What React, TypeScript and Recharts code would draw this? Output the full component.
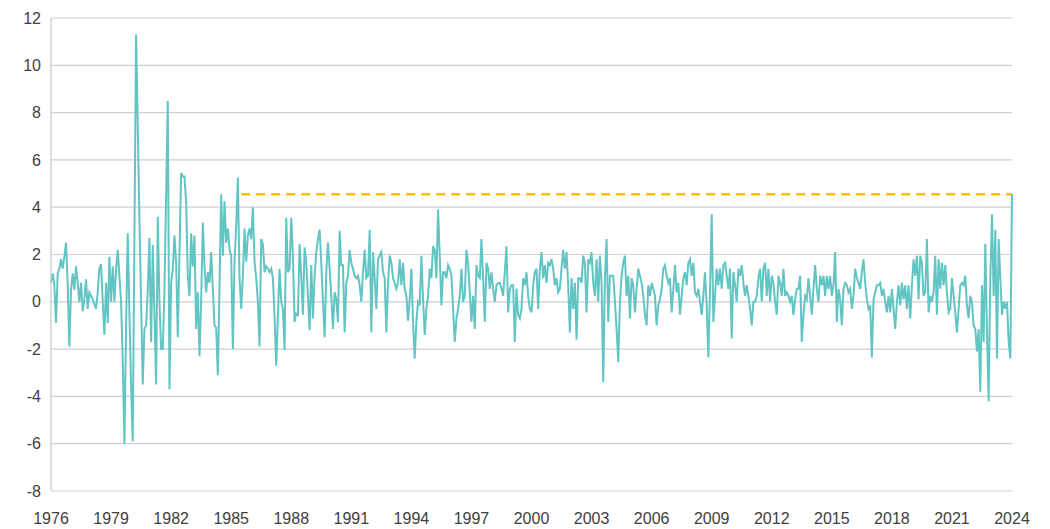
import React from 'react';
import {
  LineChart,
  Line,
  XAxis,
  YAxis,
  CartesianGrid,
  ReferenceLine,
} from 'recharts';

// monthly values, one array per year
const y1976 = [0.8, 1.2, 0.7, -0.9, 1.2, 1.4, 1.8, 1.4, 1.9, 2.5, 0.8, -1.9];
const y1977 = [0.5, 1.2, 0.5, 1.5, 0.8, 0.0, 0.8, -0.4, 0.1, 0.95, -0.3, 0.4];
const y1978 = [0.25, 0.1, -0.1, -0.3, 0.4, 1.4, 1.6, 0.0, -1.4, 0.8, -0.9, 1.9];
const y1979 = [0.0, 1.5, 0.0, 1.4, 2.2, 1.1, 0.0, -2.5, -6.0, -1.0, 2.9, -0.5];
const y1980 = [-3.5, -5.9, 2.7, 11.3, 7.5, 3.5, 0.0, -3.5, -1.15, -1.0, 0.5, 2.7];
const y1981 = [-1.7, 2.4, -0.5, -3.5, 3.6, 0.0, -2.0, -2.0, 0.5, 4.5, 8.5, -3.7];
const y1982 = [0.8, 1.4, 2.8, 1.65, -1.5, 2.0, 5.45, 5.3, 5.3, 4.2, 1.1, 0.25];
const y1983 = [2.9, 1.5, 2.8, -1.15, 0.4, -2.3, 0.1, 3.35, 1.5, 0.4, 1.25, 0.8];
const y1984 = [2.1, 0.55, -1.0, -1.1, -3.1, 0.7, 4.55, 1.95, 4.25, 2.5, 3.1, 2.2];
const y1985 = [1.95, -2.0, 1.7, 3.2, 5.25, 1.0, -0.3, 1.1, 3.1, 1.7, 2.8, 3.1];
const y1986 = [2.65, 4.0, 1.7, 1.0, 0.0, -1.9, 2.65, 2.45, 1.25, 1.5, 1.4, 1.25];
const y1987 = [1.4, 1.0, -0.6, -2.7, -0.6, 1.4, 0.0, -0.3, -2.05, 3.55, 1.25, 1.4];
const y1988 = [3.55, 1.95, -0.85, -0.5, -0.55, 2.45, 1.1, -0.55, 2.3, 1.65, 0.25, -1.2];
const y1989 = [1.55, -0.7, 1.1, 2.1, 2.65, 3.05, 1.65, 0.0, -1.5, 1.25, 2.5, 1.4];
const y1990 = [0.25, -1.15, 0.4, 0.1, -0.85, 3.0, 1.55, 1.55, -1.3, 0.8, 1.1, 2.2];
const y1991 = [1.65, 1.4, 1.1, 1.0, 1.1, 0.7, 0.0, 1.25, 2.2, 1.0, 1.1, 3.05];
const y1992 = [-1.3, 2.1, 1.0, -0.3, 1.8, 1.95, 2.1, 1.25, 1.0, -1.3, 0.8, 1.95];
const y1993 = [1.65, 1.0, 0.8, 0.55, 0.8, 1.8, 0.7, 1.65, 0.55, 0.25, -0.8, 0.1];
const y1994 = [1.4, -0.85, -2.4, -0.85, 0.0, -0.15, 1.95, 0.1, -1.4, -0.3, 0.25, 1.4];
const y1995 = [1.0, 2.35, 2.2, 1.0, 3.9, 1.95, -0.15, 1.25, 1.25, 1.0, 1.55, 1.4];
const y1996 = [1.1, -0.3, -1.7, -0.7, -0.3, 0.25, 1.4, 0.0, 0.25, 2.2, 1.65, 0.4];
const y1997 = [-0.85, 0.25, -1.15, 1.55, 1.1, 1.0, 2.65, 1.0, -0.85, 1.65, 1.4, 0.55];
const y1998 = [1.25, 0.55, 0.0, 0.7, 0.8, 0.8, 0.55, 0.25, 1.25, 2.35, -0.45, 0.55];
const y1999 = [0.7, 0.7, -1.7, 0.55, -0.55, -0.7, -0.3, 1.0, 0.7, 1.25, 0.25, -0.3];
const y2000 = [-0.45, 0.7, 1.25, 1.4, -0.3, 1.4, 2.1, 1.0, 1.55, 0.8, 1.65, 1.55];
const y2001 = [1.8, 1.4, 0.7, 1.0, 0.4, 0.55, 1.4, 2.2, 1.4, 2.1, 0.7, -1.3];
const y2002 = [1.0, -0.3, 0.8, -1.6, 1.0, 1.0, 0.8, 1.95, 1.65, -0.45, 1.8, 1.65];
const y2003 = [2.1, 0.8, 0.25, 1.8, 0.0, 1.95, 0.8, -3.4, 1.0, 2.65, -0.85, 1.1];
const y2004 = [1.1, 1.1, 0.0, -1.15, -2.55, 0.0, 1.1, 1.65, 1.95, 0.25, 1.1, -0.7];
const y2005 = [1.0, 0.7, -0.45, 0.55, 1.4, 1.1, 0.8, 0.25, -0.55, -1.0, 0.7, 0.25];
const y2006 = [0.8, 0.55, 0.25, -1.0, -0.15, 0.1, 0.55, 1.4, 1.55, 1.1, 0.8, 1.0];
const y2007 = [-0.45, 0.55, 1.55, 0.4, 0.8, -0.55, 0.25, 1.0, 1.25, 0.7, 1.65, 1.8];
const y2008 = [1.1, 1.65, 0.4, 0.25, 0.55, 0.0, -0.55, 0.25, 1.25, -0.15, -2.35, 0.55];
const y2009 = [3.7, -0.85, 0.25, 1.4, 0.7, 1.4, 0.55, 1.55, 1.65, 1.1, 0.55, 1.4];
const y2010 = [-1.55, 1.25, 0.7, 0.0, 1.4, 1.1, 1.55, 0.8, 0.25, 0.7, 0.25, -0.3];
const y2011 = [-1.0, 0.0, 0.0, 0.25, 1.0, 1.4, 0.0, 1.4, 1.65, 0.25, 1.4, 0.0];
const y2012 = [1.1, 0.8, 0.0, -0.55, 1.1, 0.8, 0.25, 1.4, 0.25, 0.4, 0.25, 0.0];
const y2013 = [0.25, -0.55, 0.1, 0.55, 0.55, 1.1, -1.7, -0.55, 0.25, 0.1, 1.0, 0.25];
const y2014 = [-0.55, 0.55, 1.55, 0.55, 0.0, 1.1, 0.7, 1.1, 0.25, 1.1, 0.55, 1.1];
const y2015 = [0.25, 0.7, 2.1, -0.85, 0.55, 0.1, -1.0, 0.55, 0.8, 0.7, 0.4, 0.55];
const y2016 = [-0.3, 0.25, 1.4, 1.0, 0.8, 0.55, 1.25, 1.8, 0.8, 0.1, -0.3, -0.15];
const y2017 = [-2.35, 0.1, 0.4, 0.7, 0.7, 0.8, 0.25, 0.55, 0.0, -0.45, 0.25, -0.45];
const y2018 = [0.55, -0.3, -1.15, 0.0, 0.7, -0.15, 0.8, 0.1, 0.7, -0.3, 0.7, -0.7];
const y2019 = [0.7, 1.8, 1.1, 1.95, 0.1, 1.95, 1.65, 0.25, 0.4, 2.65, -0.45, 0.25];
const y2020 = [0.0, 0.4, 1.95, -0.55, 1.8, 0.55, 1.65, 0.7, 1.55, 0.4, -0.45, -0.3];
const y2021 = [1.0, 0.25, -0.45, -1.3, -0.3, 0.7, 0.8, 0.7, 1.1, -0.15, -0.7, 0.25];
const y2022 = [0.0, -1.0, -1.15, -2.1, -1.15, -3.8, 0.7, -1.7, 2.45, -1.15, -4.2, 1.0];
const y2023 = [3.7, 0.25, 3.05, -2.4, 2.65, 1.0, -0.55, 0.0, -0.3, 0.0, -1.7, -2.4];
const y2024 = [4.55];

const yearly = [
  y1976, y1977, y1978, y1979, y1980, y1981, y1982, y1983, y1984, y1985,
  y1986, y1987, y1988, y1989, y1990, y1991, y1992, y1993, y1994, y1995,
  y1996, y1997, y1998, y1999, y2000, y2001, y2002, y2003, y2004, y2005,
  y2006, y2007, y2008, y2009, y2010, y2011, y2012, y2013, y2014, y2015,
  y2016, y2017, y2018, y2019, y2020, y2021, y2022, y2023, y2024,
];
const firstYear = 1976;

const xTicks = [1976, 1979, 1982, 1985, 1988, 1991, 1994, 1997, 2000, 2003, 2006, 2009, 2012, 2015, 2018, 2021, 2024];
const yTicks = [-8, -6, -4, -2, 0, 2, 4, 6, 8, 10, 12];

// dashed level line (current reading), starts mid-1985
const levelValue = 4.55;
const levelFrom = 1985.5;
const levelTo = 2024;

const data = yearly.flatMap((vals, yi) =>
  vals.map((v, m) => ({ t: firstYear + yi + m / 12, v }))
);

const axisFont = {
  fontFamily: 'Liberation Sans, Arial, sans-serif',
  fontSize: 16,
  fill: '#404040',
};

export default function App() {
  return (
    <div style={{ position: 'absolute', left: 0, top: 0, width: 1050, height: 529, background: '#fff' }}>
      <LineChart
        width={1050}
        height={529}
        data={data}
        margin={{ top: 18, right: 38, bottom: 8, left: 0 }}
      >
        <CartesianGrid vertical={false} stroke="#d0d0d0" strokeWidth={1.2} />
        <XAxis
          type="number"
          dataKey="t"
          domain={[1976, 2024]}
          ticks={xTicks}
          interval={0}
          height={30}
          axisLine={false}
          tickLine={false}
          tickSize={0}
          tickMargin={22}
          tick={axisFont}
        />
        <YAxis
          domain={[-8, 12]}
          ticks={yTicks}
          interval={0}
          width={51}
          axisLine={{ stroke: '#c8c8c8', strokeWidth: 1.2 }}
          tickLine={false}
          tickSize={0}
          tickMargin={10}
          tick={axisFont}
        />
        <ReferenceLine
          segment={[
            { x: levelFrom, y: levelValue },
            { x: levelTo, y: levelValue },
          ]}
          stroke="#FFC000"
          strokeWidth={2.5}
          strokeDasharray="9 6"
        />
        <Line
          type="linear"
          dataKey="v"
          stroke="#62C5C4"
          strokeWidth={2}
          dot={false}
          isAnimationActive={false}
        />
      </LineChart>
    </div>
  );
}
